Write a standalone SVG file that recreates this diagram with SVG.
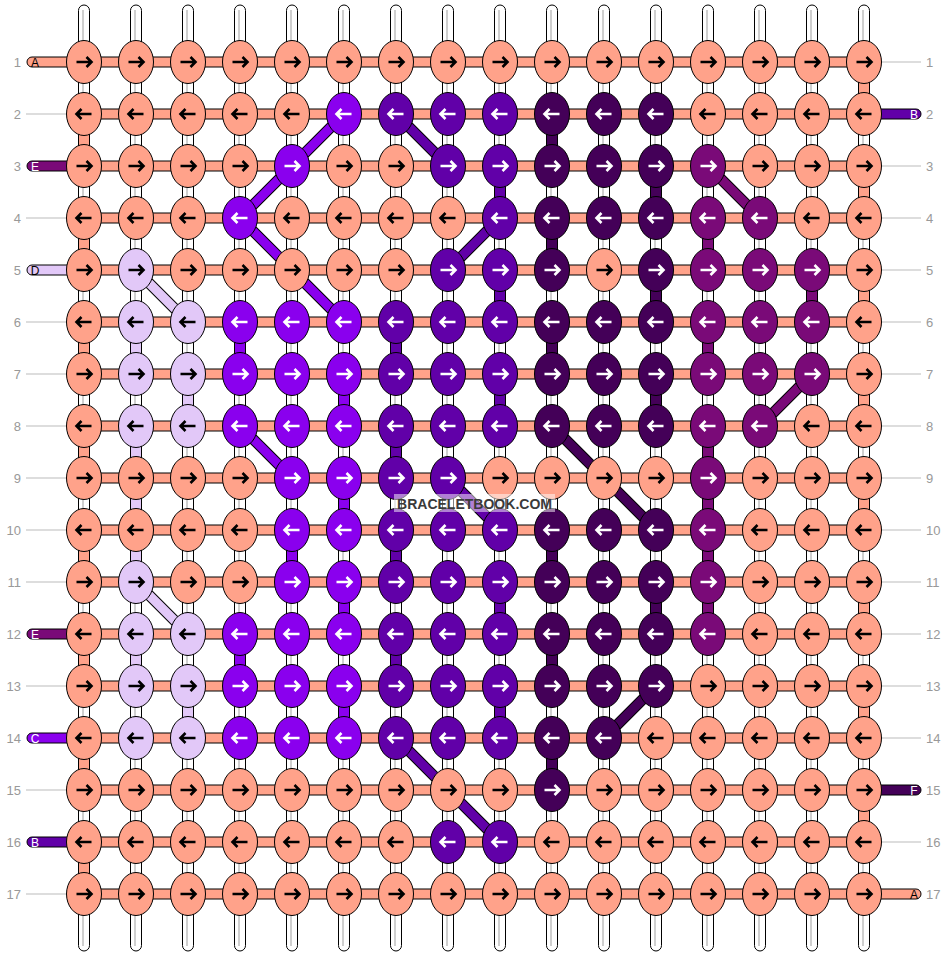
<svg xmlns="http://www.w3.org/2000/svg" xmlns:xlink="http://www.w3.org/1999/xlink" width="948" height="956" viewBox="0 0 948 956">
<style>
.s{fill:#FFA28A;color:#000}
.l{fill:#E2C8F8;color:#000}
.p{fill:#8A00EE;color:#fff}
.m{fill:#6100A8;color:#fff}
.d{fill:#440058;color:#fff}
.g{fill:#7A0A78;color:#fff}
ellipse{stroke:#000;stroke-width:1}
.thr{fill:#fff;stroke:#000;stroke-width:1}
.hl{stroke:#cfcfcf;stroke-width:2}
.seg{stroke:#000;stroke-width:1}
.dk{fill:none;stroke:#000;stroke-width:11;stroke-linejoin:round}
.dc{fill:none;stroke-width:9;stroke-linejoin:round}
.cp{stroke:#8A00EE}.cm{stroke:#6100A8}.cd{stroke:#440058}.cg{stroke:#7A0A78}.cl{stroke:#E2C8F8}
.num{font-family:"Liberation Sans",Arial,sans-serif;font-size:13px;fill:#999}
.lab{font-family:"Liberation Sans",Arial,sans-serif;font-size:12px;text-anchor:middle}
.gl{stroke:#bbb;stroke-width:1}
</style>
<defs>
<path id="R" d="M-7.5,0H6.5M2.5,-5L7.5,0L2.5,5" fill="none" stroke="currentColor" stroke-width="2.6"/>
<path id="L" d="M7.5,0H-6.5M-2.5,-5L-7.5,0L-2.5,5" fill="none" stroke="currentColor" stroke-width="2.6"/>
</defs>
<rect width="948" height="956" fill="#fff"/>
<g id="connectors">
<g id="threads">
<rect class="thr" x="78.5" y="5" width="11" height="946" rx="5.5"/><line class="hl" x1="83" y1="10" x2="83" y2="946"/>
<rect class="thr" x="130.5" y="5" width="11" height="946" rx="5.5"/><line class="hl" x1="135" y1="10" x2="135" y2="946"/>
<rect class="thr" x="182.5" y="5" width="11" height="946" rx="5.5"/><line class="hl" x1="187" y1="10" x2="187" y2="946"/>
<rect class="thr" x="234.5" y="5" width="11" height="946" rx="5.5"/><line class="hl" x1="239" y1="10" x2="239" y2="946"/>
<rect class="thr" x="286.5" y="5" width="11" height="946" rx="5.5"/><line class="hl" x1="291" y1="10" x2="291" y2="946"/>
<rect class="thr" x="338.5" y="5" width="11" height="946" rx="5.5"/><line class="hl" x1="343" y1="10" x2="343" y2="946"/>
<rect class="thr" x="390.5" y="5" width="11" height="946" rx="5.5"/><line class="hl" x1="395" y1="10" x2="395" y2="946"/>
<rect class="thr" x="442.5" y="5" width="11" height="946" rx="5.5"/><line class="hl" x1="447" y1="10" x2="447" y2="946"/>
<rect class="thr" x="494.5" y="5" width="11" height="946" rx="5.5"/><line class="hl" x1="499" y1="10" x2="499" y2="946"/>
<rect class="thr" x="546.5" y="5" width="11" height="946" rx="5.5"/><line class="hl" x1="551" y1="10" x2="551" y2="946"/>
<rect class="thr" x="598.5" y="5" width="11" height="946" rx="5.5"/><line class="hl" x1="603" y1="10" x2="603" y2="946"/>
<rect class="thr" x="650.5" y="5" width="11" height="946" rx="5.5"/><line class="hl" x1="655" y1="10" x2="655" y2="946"/>
<rect class="thr" x="702.5" y="5" width="11" height="946" rx="5.5"/><line class="hl" x1="707" y1="10" x2="707" y2="946"/>
<rect class="thr" x="754.5" y="5" width="11" height="946" rx="5.5"/><line class="hl" x1="759" y1="10" x2="759" y2="946"/>
<rect class="thr" x="806.5" y="5" width="11" height="946" rx="5.5"/><line class="hl" x1="811" y1="10" x2="811" y2="946"/>
<rect class="thr" x="858.5" y="5" width="11" height="946" rx="5.5"/><line class="hl" x1="863" y1="10" x2="863" y2="946"/>
</g>
<g id="vsegs">
<rect class="seg s" x="78.5" y="129" width="11" height="22"/><rect class="seg s" x="78.5" y="233" width="11" height="22"/><rect class="seg s" x="78.5" y="337" width="11" height="22"/><rect class="seg s" x="78.5" y="441" width="11" height="22"/><rect class="seg s" x="78.5" y="545" width="11" height="22"/><rect class="seg s" x="78.5" y="649" width="11" height="22"/><rect class="seg s" x="78.5" y="753" width="11" height="22"/><rect class="seg s" x="78.5" y="857" width="11" height="22"/>
<rect class="seg s" x="858.5" y="77" width="11" height="22"/><rect class="seg s" x="858.5" y="181" width="11" height="22"/><rect class="seg s" x="858.5" y="285" width="11" height="22"/><rect class="seg s" x="858.5" y="389" width="11" height="22"/><rect class="seg s" x="858.5" y="493" width="11" height="22"/><rect class="seg s" x="858.5" y="597" width="11" height="22"/><rect class="seg s" x="858.5" y="701" width="11" height="22"/><rect class="seg s" x="858.5" y="805" width="11" height="22"/>
<rect class="seg l" x="130.5" y="337" width="11" height="22"/><rect class="seg l" x="130.5" y="441" width="11" height="22"/><rect class="seg l" x="130.5" y="493" width="11" height="22"/><rect class="seg l" x="130.5" y="545" width="11" height="22"/><rect class="seg l" x="130.5" y="649" width="11" height="22"/>
<rect class="seg l" x="182.5" y="389" width="11" height="22"/><rect class="seg l" x="182.5" y="701" width="11" height="22"/>
<rect class="seg p" x="234.5" y="337" width="11" height="22"/><rect class="seg p" x="234.5" y="649" width="11" height="22"/>
<rect class="seg p" x="286.5" y="545" width="11" height="22"/>
<rect class="seg p" x="338.5" y="389" width="11" height="22"/><rect class="seg p" x="338.5" y="493" width="11" height="22"/><rect class="seg p" x="338.5" y="597" width="11" height="22"/><rect class="seg p" x="338.5" y="701" width="11" height="22"/>
<rect class="seg m" x="390.5" y="337" width="11" height="22"/><rect class="seg m" x="390.5" y="441" width="11" height="22"/><rect class="seg m" x="390.5" y="545" width="11" height="22"/><rect class="seg m" x="390.5" y="649" width="11" height="22"/>
<rect class="seg m" x="494.5" y="181" width="11" height="22"/><rect class="seg m" x="494.5" y="285" width="11" height="22"/><rect class="seg m" x="494.5" y="389" width="11" height="22"/><rect class="seg m" x="494.5" y="597" width="11" height="22"/><rect class="seg m" x="494.5" y="701" width="11" height="22"/>
<rect class="seg d" x="546.5" y="129" width="11" height="22"/><rect class="seg d" x="546.5" y="233" width="11" height="22"/><rect class="seg d" x="546.5" y="337" width="11" height="22"/><rect class="seg d" x="546.5" y="545" width="11" height="22"/><rect class="seg d" x="546.5" y="649" width="11" height="22"/><rect class="seg d" x="546.5" y="753" width="11" height="22"/>
<rect class="seg d" x="650.5" y="181" width="11" height="22"/><rect class="seg d" x="650.5" y="285" width="11" height="22"/><rect class="seg d" x="650.5" y="389" width="11" height="22"/><rect class="seg d" x="650.5" y="597" width="11" height="22"/>
<rect class="seg g" x="702.5" y="233" width="11" height="22"/><rect class="seg g" x="702.5" y="337" width="11" height="22"/><rect class="seg g" x="702.5" y="441" width="11" height="22"/><rect class="seg g" x="702.5" y="493" width="11" height="22"/><rect class="seg g" x="702.5" y="545" width="11" height="22"/><rect class="seg g" x="702.5" y="597" width="11" height="22"/>
<rect class="seg g" x="806.5" y="285" width="11" height="22"/>
</g>
<g id="rows">
<rect class="seg s" x="27" y="57" width="50" height="10" rx="5"/>
<rect class="seg g" x="27" y="161" width="50" height="10" rx="5"/>
<rect class="seg l" x="27" y="265" width="50" height="10" rx="5"/>
<rect class="seg g" x="27" y="629" width="50" height="10" rx="5"/>
<rect class="seg p" x="27" y="733" width="50" height="10" rx="5"/>
<rect class="seg m" x="27" y="837" width="50" height="10" rx="5"/>
<rect class="seg m" x="871" y="109" width="50" height="10" rx="5"/>
<rect class="seg d" x="871" y="785" width="50" height="10" rx="5"/>
<rect class="seg s" x="871" y="889" width="50" height="10" rx="5"/>
<rect class="seg s" x="84" y="57" width="780" height="10"/>
<rect class="seg s" x="84" y="109" width="780" height="10"/>
<rect class="seg s" x="84" y="161" width="780" height="10"/>
<rect class="seg s" x="84" y="213" width="780" height="10"/>
<rect class="seg s" x="84" y="265" width="780" height="10"/>
<rect class="seg s" x="84" y="317" width="780" height="10"/>
<rect class="seg s" x="84" y="369" width="780" height="10"/>
<rect class="seg s" x="84" y="421" width="780" height="10"/>
<rect class="seg s" x="84" y="473" width="780" height="10"/>
<rect class="seg s" x="84" y="525" width="780" height="10"/>
<rect class="seg s" x="84" y="577" width="780" height="10"/>
<rect class="seg s" x="84" y="629" width="780" height="10"/>
<rect class="seg s" x="84" y="681" width="780" height="10"/>
<rect class="seg s" x="84" y="733" width="780" height="10"/>
<rect class="seg s" x="84" y="785" width="780" height="10"/>
<rect class="seg s" x="84" y="837" width="780" height="10"/>
<rect class="seg s" x="84" y="889" width="780" height="10"/>
</g>
<g id="diagonals">
<polyline class="dk" points="344,114 292,166 240,218 292,270 344,322"/><polyline class="dc cp" points="344,114 292,166 240,218 292,270 344,322"/>
<line class="dk" x1="396" y1="114" x2="448" y2="166"/><line class="dc cm" x1="396" y1="114" x2="448" y2="166"/>
<line class="dk" x1="500" y1="218" x2="448" y2="270"/><line class="dc cm" x1="500" y1="218" x2="448" y2="270"/>
<line class="dk" x1="708" y1="166" x2="760" y2="218"/><line class="dc cg" x1="708" y1="166" x2="760" y2="218"/>
<line class="dk" x1="136" y1="270" x2="188" y2="322"/><line class="dc cl" x1="136" y1="270" x2="188" y2="322"/>
<line class="dk" x1="812" y1="374" x2="760" y2="426"/><line class="dc cg" x1="812" y1="374" x2="760" y2="426"/>
<line class="dk" x1="240" y1="426" x2="292" y2="478"/><line class="dc cp" x1="240" y1="426" x2="292" y2="478"/>
<line class="dk" x1="552" y1="426" x2="656" y2="530"/><line class="dc cd" x1="552" y1="426" x2="656" y2="530"/>
<line class="dk" x1="448" y1="478" x2="500" y2="530"/><line class="dc cm" x1="448" y1="478" x2="500" y2="530"/>
<line class="dk" x1="136" y1="582" x2="188" y2="634"/><line class="dc cl" x1="136" y1="582" x2="188" y2="634"/>
<line class="dk" x1="656" y1="686" x2="604" y2="738"/><line class="dc cd" x1="656" y1="686" x2="604" y2="738"/>
<line class="dk" x1="396" y1="738" x2="500" y2="842"/><line class="dc cm" x1="396" y1="738" x2="500" y2="842"/>
</g>
</g>
<g id="labels">
<text class="num" x="21" y="66.5" text-anchor="end">1</text><text class="num" x="21" y="118.5" text-anchor="end">2</text><text class="num" x="21" y="170.5" text-anchor="end">3</text><text class="num" x="21" y="222.5" text-anchor="end">4</text><text class="num" x="21" y="274.5" text-anchor="end">5</text><text class="num" x="21" y="326.5" text-anchor="end">6</text><text class="num" x="21" y="378.5" text-anchor="end">7</text><text class="num" x="21" y="430.5" text-anchor="end">8</text><text class="num" x="21" y="482.5" text-anchor="end">9</text><text class="num" x="21" y="534.5" text-anchor="end">10</text><text class="num" x="21" y="586.5" text-anchor="end">11</text><text class="num" x="21" y="638.5" text-anchor="end">12</text><text class="num" x="21" y="690.5" text-anchor="end">13</text><text class="num" x="21" y="742.5" text-anchor="end">14</text><text class="num" x="21" y="794.5" text-anchor="end">15</text><text class="num" x="21" y="846.5" text-anchor="end">16</text><text class="num" x="21" y="898.5" text-anchor="end">17</text>
<text class="num" x="926" y="66.5">1</text><text class="num" x="926" y="118.5">2</text><text class="num" x="926" y="170.5">3</text><text class="num" x="926" y="222.5">4</text><text class="num" x="926" y="274.5">5</text><text class="num" x="926" y="326.5">6</text><text class="num" x="926" y="378.5">7</text><text class="num" x="926" y="430.5">8</text><text class="num" x="926" y="482.5">9</text><text class="num" x="926" y="534.5">10</text><text class="num" x="926" y="586.5">11</text><text class="num" x="926" y="638.5">12</text><text class="num" x="926" y="690.5">13</text><text class="num" x="926" y="742.5">14</text><text class="num" x="926" y="794.5">15</text><text class="num" x="926" y="846.5">16</text><text class="num" x="926" y="898.5">17</text>
<line class="gl" x1="26" y1="114" x2="67" y2="114"/><line class="gl" x1="26" y1="218" x2="67" y2="218"/><line class="gl" x1="26" y1="322" x2="67" y2="322"/><line class="gl" x1="26" y1="374" x2="67" y2="374"/><line class="gl" x1="26" y1="426" x2="67" y2="426"/><line class="gl" x1="26" y1="478" x2="67" y2="478"/><line class="gl" x1="26" y1="530" x2="67" y2="530"/><line class="gl" x1="26" y1="582" x2="67" y2="582"/><line class="gl" x1="26" y1="686" x2="67" y2="686"/><line class="gl" x1="26" y1="790" x2="67" y2="790"/><line class="gl" x1="26" y1="894" x2="67" y2="894"/>
<line class="gl" x1="881" y1="62" x2="921" y2="62"/><line class="gl" x1="881" y1="166" x2="921" y2="166"/><line class="gl" x1="881" y1="218" x2="921" y2="218"/><line class="gl" x1="881" y1="270" x2="921" y2="270"/><line class="gl" x1="881" y1="322" x2="921" y2="322"/><line class="gl" x1="881" y1="374" x2="921" y2="374"/><line class="gl" x1="881" y1="426" x2="921" y2="426"/><line class="gl" x1="881" y1="478" x2="921" y2="478"/><line class="gl" x1="881" y1="530" x2="921" y2="530"/><line class="gl" x1="881" y1="582" x2="921" y2="582"/><line class="gl" x1="881" y1="634" x2="921" y2="634"/><line class="gl" x1="881" y1="686" x2="921" y2="686"/><line class="gl" x1="881" y1="738" x2="921" y2="738"/><line class="gl" x1="881" y1="842" x2="921" y2="842"/>
<text class="lab" x="35" y="66.5" fill="#000">A</text>
<text class="lab" x="35" y="170.5" fill="#fff">E</text>
<text class="lab" x="35" y="274.5" fill="#000">D</text>
<text class="lab" x="35" y="638.5" fill="#fff">E</text>
<text class="lab" x="35" y="742.5" fill="#fff">C</text>
<text class="lab" x="35" y="846.5" fill="#fff">B</text>
<text class="lab" x="914" y="118.5" fill="#fff">B</text>
<text class="lab" x="914" y="794.5" fill="#fff">F</text>
<text class="lab" x="914" y="898.5" fill="#000">A</text>
</g>
<g id="nodes">
<g id="n1-1" class="s"><ellipse cx="84" cy="62" rx="17.5" ry="21.5"/><use href="#R" x="84" y="62"/></g>
<g id="n1-2" class="s"><ellipse cx="136" cy="62" rx="17.5" ry="21.5"/><use href="#R" x="136" y="62"/></g>
<g id="n1-3" class="s"><ellipse cx="188" cy="62" rx="17.5" ry="21.5"/><use href="#R" x="188" y="62"/></g>
<g id="n1-4" class="s"><ellipse cx="240" cy="62" rx="17.5" ry="21.5"/><use href="#R" x="240" y="62"/></g>
<g id="n1-5" class="s"><ellipse cx="292" cy="62" rx="17.5" ry="21.5"/><use href="#R" x="292" y="62"/></g>
<g id="n1-6" class="s"><ellipse cx="344" cy="62" rx="17.5" ry="21.5"/><use href="#R" x="344" y="62"/></g>
<g id="n1-7" class="s"><ellipse cx="396" cy="62" rx="17.5" ry="21.5"/><use href="#R" x="396" y="62"/></g>
<g id="n1-8" class="s"><ellipse cx="448" cy="62" rx="17.5" ry="21.5"/><use href="#R" x="448" y="62"/></g>
<g id="n1-9" class="s"><ellipse cx="500" cy="62" rx="17.5" ry="21.5"/><use href="#R" x="500" y="62"/></g>
<g id="n1-10" class="s"><ellipse cx="552" cy="62" rx="17.5" ry="21.5"/><use href="#R" x="552" y="62"/></g>
<g id="n1-11" class="s"><ellipse cx="604" cy="62" rx="17.5" ry="21.5"/><use href="#R" x="604" y="62"/></g>
<g id="n1-12" class="s"><ellipse cx="656" cy="62" rx="17.5" ry="21.5"/><use href="#R" x="656" y="62"/></g>
<g id="n1-13" class="s"><ellipse cx="708" cy="62" rx="17.5" ry="21.5"/><use href="#R" x="708" y="62"/></g>
<g id="n1-14" class="s"><ellipse cx="760" cy="62" rx="17.5" ry="21.5"/><use href="#R" x="760" y="62"/></g>
<g id="n1-15" class="s"><ellipse cx="812" cy="62" rx="17.5" ry="21.5"/><use href="#R" x="812" y="62"/></g>
<g id="n1-16" class="s"><ellipse cx="864" cy="62" rx="17.5" ry="21.5"/><use href="#R" x="864" y="62"/></g>
<g id="n2-1" class="s"><ellipse cx="84" cy="114" rx="17.5" ry="21.5"/><use href="#L" x="84" y="114"/></g>
<g id="n2-2" class="s"><ellipse cx="136" cy="114" rx="17.5" ry="21.5"/><use href="#L" x="136" y="114"/></g>
<g id="n2-3" class="s"><ellipse cx="188" cy="114" rx="17.5" ry="21.5"/><use href="#L" x="188" y="114"/></g>
<g id="n2-4" class="s"><ellipse cx="240" cy="114" rx="17.5" ry="21.5"/><use href="#L" x="240" y="114"/></g>
<g id="n2-5" class="s"><ellipse cx="292" cy="114" rx="17.5" ry="21.5"/><use href="#L" x="292" y="114"/></g>
<g id="n2-6" class="p"><ellipse cx="344" cy="114" rx="17.5" ry="21.5"/><use href="#L" x="344" y="114"/></g>
<g id="n2-7" class="m"><ellipse cx="396" cy="114" rx="17.5" ry="21.5"/><use href="#L" x="396" y="114"/></g>
<g id="n2-8" class="m"><ellipse cx="448" cy="114" rx="17.5" ry="21.5"/><use href="#L" x="448" y="114"/></g>
<g id="n2-9" class="m"><ellipse cx="500" cy="114" rx="17.5" ry="21.5"/><use href="#L" x="500" y="114"/></g>
<g id="n2-10" class="d"><ellipse cx="552" cy="114" rx="17.5" ry="21.5"/><use href="#L" x="552" y="114"/></g>
<g id="n2-11" class="d"><ellipse cx="604" cy="114" rx="17.5" ry="21.5"/><use href="#L" x="604" y="114"/></g>
<g id="n2-12" class="d"><ellipse cx="656" cy="114" rx="17.5" ry="21.5"/><use href="#L" x="656" y="114"/></g>
<g id="n2-13" class="s"><ellipse cx="708" cy="114" rx="17.5" ry="21.5"/><use href="#L" x="708" y="114"/></g>
<g id="n2-14" class="s"><ellipse cx="760" cy="114" rx="17.5" ry="21.5"/><use href="#L" x="760" y="114"/></g>
<g id="n2-15" class="s"><ellipse cx="812" cy="114" rx="17.5" ry="21.5"/><use href="#L" x="812" y="114"/></g>
<g id="n2-16" class="s"><ellipse cx="864" cy="114" rx="17.5" ry="21.5"/><use href="#L" x="864" y="114"/></g>
<g id="n3-1" class="s"><ellipse cx="84" cy="166" rx="17.5" ry="21.5"/><use href="#R" x="84" y="166"/></g>
<g id="n3-2" class="s"><ellipse cx="136" cy="166" rx="17.5" ry="21.5"/><use href="#R" x="136" y="166"/></g>
<g id="n3-3" class="s"><ellipse cx="188" cy="166" rx="17.5" ry="21.5"/><use href="#R" x="188" y="166"/></g>
<g id="n3-4" class="s"><ellipse cx="240" cy="166" rx="17.5" ry="21.5"/><use href="#R" x="240" y="166"/></g>
<g id="n3-5" class="p"><ellipse cx="292" cy="166" rx="17.5" ry="21.5"/><use href="#R" x="292" y="166"/></g>
<g id="n3-6" class="s"><ellipse cx="344" cy="166" rx="17.5" ry="21.5"/><use href="#R" x="344" y="166"/></g>
<g id="n3-7" class="s"><ellipse cx="396" cy="166" rx="17.5" ry="21.5"/><use href="#R" x="396" y="166"/></g>
<g id="n3-8" class="m"><ellipse cx="448" cy="166" rx="17.5" ry="21.5"/><use href="#R" x="448" y="166"/></g>
<g id="n3-9" class="m"><ellipse cx="500" cy="166" rx="17.5" ry="21.5"/><use href="#R" x="500" y="166"/></g>
<g id="n3-10" class="d"><ellipse cx="552" cy="166" rx="17.5" ry="21.5"/><use href="#R" x="552" y="166"/></g>
<g id="n3-11" class="d"><ellipse cx="604" cy="166" rx="17.5" ry="21.5"/><use href="#R" x="604" y="166"/></g>
<g id="n3-12" class="d"><ellipse cx="656" cy="166" rx="17.5" ry="21.5"/><use href="#R" x="656" y="166"/></g>
<g id="n3-13" class="g"><ellipse cx="708" cy="166" rx="17.5" ry="21.5"/><use href="#R" x="708" y="166"/></g>
<g id="n3-14" class="s"><ellipse cx="760" cy="166" rx="17.5" ry="21.5"/><use href="#R" x="760" y="166"/></g>
<g id="n3-15" class="s"><ellipse cx="812" cy="166" rx="17.5" ry="21.5"/><use href="#R" x="812" y="166"/></g>
<g id="n3-16" class="s"><ellipse cx="864" cy="166" rx="17.5" ry="21.5"/><use href="#R" x="864" y="166"/></g>
<g id="n4-1" class="s"><ellipse cx="84" cy="218" rx="17.5" ry="21.5"/><use href="#L" x="84" y="218"/></g>
<g id="n4-2" class="s"><ellipse cx="136" cy="218" rx="17.5" ry="21.5"/><use href="#L" x="136" y="218"/></g>
<g id="n4-3" class="s"><ellipse cx="188" cy="218" rx="17.5" ry="21.5"/><use href="#L" x="188" y="218"/></g>
<g id="n4-4" class="p"><ellipse cx="240" cy="218" rx="17.5" ry="21.5"/><use href="#L" x="240" y="218"/></g>
<g id="n4-5" class="s"><ellipse cx="292" cy="218" rx="17.5" ry="21.5"/><use href="#L" x="292" y="218"/></g>
<g id="n4-6" class="s"><ellipse cx="344" cy="218" rx="17.5" ry="21.5"/><use href="#L" x="344" y="218"/></g>
<g id="n4-7" class="s"><ellipse cx="396" cy="218" rx="17.5" ry="21.5"/><use href="#L" x="396" y="218"/></g>
<g id="n4-8" class="s"><ellipse cx="448" cy="218" rx="17.5" ry="21.5"/><use href="#L" x="448" y="218"/></g>
<g id="n4-9" class="m"><ellipse cx="500" cy="218" rx="17.5" ry="21.5"/><use href="#L" x="500" y="218"/></g>
<g id="n4-10" class="d"><ellipse cx="552" cy="218" rx="17.5" ry="21.5"/><use href="#L" x="552" y="218"/></g>
<g id="n4-11" class="d"><ellipse cx="604" cy="218" rx="17.5" ry="21.5"/><use href="#L" x="604" y="218"/></g>
<g id="n4-12" class="d"><ellipse cx="656" cy="218" rx="17.5" ry="21.5"/><use href="#L" x="656" y="218"/></g>
<g id="n4-13" class="g"><ellipse cx="708" cy="218" rx="17.5" ry="21.5"/><use href="#L" x="708" y="218"/></g>
<g id="n4-14" class="g"><ellipse cx="760" cy="218" rx="17.5" ry="21.5"/><use href="#L" x="760" y="218"/></g>
<g id="n4-15" class="s"><ellipse cx="812" cy="218" rx="17.5" ry="21.5"/><use href="#L" x="812" y="218"/></g>
<g id="n4-16" class="s"><ellipse cx="864" cy="218" rx="17.5" ry="21.5"/><use href="#L" x="864" y="218"/></g>
<g id="n5-1" class="s"><ellipse cx="84" cy="270" rx="17.5" ry="21.5"/><use href="#R" x="84" y="270"/></g>
<g id="n5-2" class="l"><ellipse cx="136" cy="270" rx="17.5" ry="21.5"/><use href="#R" x="136" y="270"/></g>
<g id="n5-3" class="s"><ellipse cx="188" cy="270" rx="17.5" ry="21.5"/><use href="#R" x="188" y="270"/></g>
<g id="n5-4" class="s"><ellipse cx="240" cy="270" rx="17.5" ry="21.5"/><use href="#R" x="240" y="270"/></g>
<g id="n5-5" class="s"><ellipse cx="292" cy="270" rx="17.5" ry="21.5"/><use href="#R" x="292" y="270"/></g>
<g id="n5-6" class="s"><ellipse cx="344" cy="270" rx="17.5" ry="21.5"/><use href="#R" x="344" y="270"/></g>
<g id="n5-7" class="s"><ellipse cx="396" cy="270" rx="17.5" ry="21.5"/><use href="#R" x="396" y="270"/></g>
<g id="n5-8" class="m"><ellipse cx="448" cy="270" rx="17.5" ry="21.5"/><use href="#R" x="448" y="270"/></g>
<g id="n5-9" class="m"><ellipse cx="500" cy="270" rx="17.5" ry="21.5"/><use href="#R" x="500" y="270"/></g>
<g id="n5-10" class="d"><ellipse cx="552" cy="270" rx="17.5" ry="21.5"/><use href="#R" x="552" y="270"/></g>
<g id="n5-11" class="s"><ellipse cx="604" cy="270" rx="17.5" ry="21.5"/><use href="#R" x="604" y="270"/></g>
<g id="n5-12" class="d"><ellipse cx="656" cy="270" rx="17.5" ry="21.5"/><use href="#R" x="656" y="270"/></g>
<g id="n5-13" class="g"><ellipse cx="708" cy="270" rx="17.5" ry="21.5"/><use href="#R" x="708" y="270"/></g>
<g id="n5-14" class="g"><ellipse cx="760" cy="270" rx="17.5" ry="21.5"/><use href="#R" x="760" y="270"/></g>
<g id="n5-15" class="g"><ellipse cx="812" cy="270" rx="17.5" ry="21.5"/><use href="#R" x="812" y="270"/></g>
<g id="n5-16" class="s"><ellipse cx="864" cy="270" rx="17.5" ry="21.5"/><use href="#R" x="864" y="270"/></g>
<g id="n6-1" class="s"><ellipse cx="84" cy="322" rx="17.5" ry="21.5"/><use href="#L" x="84" y="322"/></g>
<g id="n6-2" class="l"><ellipse cx="136" cy="322" rx="17.5" ry="21.5"/><use href="#L" x="136" y="322"/></g>
<g id="n6-3" class="l"><ellipse cx="188" cy="322" rx="17.5" ry="21.5"/><use href="#L" x="188" y="322"/></g>
<g id="n6-4" class="p"><ellipse cx="240" cy="322" rx="17.5" ry="21.5"/><use href="#L" x="240" y="322"/></g>
<g id="n6-5" class="p"><ellipse cx="292" cy="322" rx="17.5" ry="21.5"/><use href="#L" x="292" y="322"/></g>
<g id="n6-6" class="p"><ellipse cx="344" cy="322" rx="17.5" ry="21.5"/><use href="#L" x="344" y="322"/></g>
<g id="n6-7" class="m"><ellipse cx="396" cy="322" rx="17.5" ry="21.5"/><use href="#L" x="396" y="322"/></g>
<g id="n6-8" class="m"><ellipse cx="448" cy="322" rx="17.5" ry="21.5"/><use href="#L" x="448" y="322"/></g>
<g id="n6-9" class="m"><ellipse cx="500" cy="322" rx="17.5" ry="21.5"/><use href="#L" x="500" y="322"/></g>
<g id="n6-10" class="d"><ellipse cx="552" cy="322" rx="17.5" ry="21.5"/><use href="#L" x="552" y="322"/></g>
<g id="n6-11" class="d"><ellipse cx="604" cy="322" rx="17.5" ry="21.5"/><use href="#L" x="604" y="322"/></g>
<g id="n6-12" class="d"><ellipse cx="656" cy="322" rx="17.5" ry="21.5"/><use href="#L" x="656" y="322"/></g>
<g id="n6-13" class="g"><ellipse cx="708" cy="322" rx="17.5" ry="21.5"/><use href="#L" x="708" y="322"/></g>
<g id="n6-14" class="g"><ellipse cx="760" cy="322" rx="17.5" ry="21.5"/><use href="#L" x="760" y="322"/></g>
<g id="n6-15" class="g"><ellipse cx="812" cy="322" rx="17.5" ry="21.5"/><use href="#L" x="812" y="322"/></g>
<g id="n6-16" class="s"><ellipse cx="864" cy="322" rx="17.5" ry="21.5"/><use href="#L" x="864" y="322"/></g>
<g id="n7-1" class="s"><ellipse cx="84" cy="374" rx="17.5" ry="21.5"/><use href="#R" x="84" y="374"/></g>
<g id="n7-2" class="l"><ellipse cx="136" cy="374" rx="17.5" ry="21.5"/><use href="#R" x="136" y="374"/></g>
<g id="n7-3" class="l"><ellipse cx="188" cy="374" rx="17.5" ry="21.5"/><use href="#R" x="188" y="374"/></g>
<g id="n7-4" class="p"><ellipse cx="240" cy="374" rx="17.5" ry="21.5"/><use href="#R" x="240" y="374"/></g>
<g id="n7-5" class="p"><ellipse cx="292" cy="374" rx="17.5" ry="21.5"/><use href="#R" x="292" y="374"/></g>
<g id="n7-6" class="p"><ellipse cx="344" cy="374" rx="17.5" ry="21.5"/><use href="#R" x="344" y="374"/></g>
<g id="n7-7" class="m"><ellipse cx="396" cy="374" rx="17.5" ry="21.5"/><use href="#R" x="396" y="374"/></g>
<g id="n7-8" class="m"><ellipse cx="448" cy="374" rx="17.5" ry="21.5"/><use href="#R" x="448" y="374"/></g>
<g id="n7-9" class="m"><ellipse cx="500" cy="374" rx="17.5" ry="21.5"/><use href="#R" x="500" y="374"/></g>
<g id="n7-10" class="d"><ellipse cx="552" cy="374" rx="17.5" ry="21.5"/><use href="#R" x="552" y="374"/></g>
<g id="n7-11" class="d"><ellipse cx="604" cy="374" rx="17.5" ry="21.5"/><use href="#R" x="604" y="374"/></g>
<g id="n7-12" class="d"><ellipse cx="656" cy="374" rx="17.5" ry="21.5"/><use href="#R" x="656" y="374"/></g>
<g id="n7-13" class="g"><ellipse cx="708" cy="374" rx="17.5" ry="21.5"/><use href="#R" x="708" y="374"/></g>
<g id="n7-14" class="g"><ellipse cx="760" cy="374" rx="17.5" ry="21.5"/><use href="#R" x="760" y="374"/></g>
<g id="n7-15" class="g"><ellipse cx="812" cy="374" rx="17.5" ry="21.5"/><use href="#R" x="812" y="374"/></g>
<g id="n7-16" class="s"><ellipse cx="864" cy="374" rx="17.5" ry="21.5"/><use href="#R" x="864" y="374"/></g>
<g id="n8-1" class="s"><ellipse cx="84" cy="426" rx="17.5" ry="21.5"/><use href="#L" x="84" y="426"/></g>
<g id="n8-2" class="l"><ellipse cx="136" cy="426" rx="17.5" ry="21.5"/><use href="#L" x="136" y="426"/></g>
<g id="n8-3" class="l"><ellipse cx="188" cy="426" rx="17.5" ry="21.5"/><use href="#L" x="188" y="426"/></g>
<g id="n8-4" class="p"><ellipse cx="240" cy="426" rx="17.5" ry="21.5"/><use href="#L" x="240" y="426"/></g>
<g id="n8-5" class="p"><ellipse cx="292" cy="426" rx="17.5" ry="21.5"/><use href="#L" x="292" y="426"/></g>
<g id="n8-6" class="p"><ellipse cx="344" cy="426" rx="17.5" ry="21.5"/><use href="#L" x="344" y="426"/></g>
<g id="n8-7" class="m"><ellipse cx="396" cy="426" rx="17.5" ry="21.5"/><use href="#L" x="396" y="426"/></g>
<g id="n8-8" class="m"><ellipse cx="448" cy="426" rx="17.5" ry="21.5"/><use href="#L" x="448" y="426"/></g>
<g id="n8-9" class="m"><ellipse cx="500" cy="426" rx="17.5" ry="21.5"/><use href="#L" x="500" y="426"/></g>
<g id="n8-10" class="d"><ellipse cx="552" cy="426" rx="17.5" ry="21.5"/><use href="#L" x="552" y="426"/></g>
<g id="n8-11" class="d"><ellipse cx="604" cy="426" rx="17.5" ry="21.5"/><use href="#L" x="604" y="426"/></g>
<g id="n8-12" class="d"><ellipse cx="656" cy="426" rx="17.5" ry="21.5"/><use href="#L" x="656" y="426"/></g>
<g id="n8-13" class="g"><ellipse cx="708" cy="426" rx="17.5" ry="21.5"/><use href="#L" x="708" y="426"/></g>
<g id="n8-14" class="g"><ellipse cx="760" cy="426" rx="17.5" ry="21.5"/><use href="#L" x="760" y="426"/></g>
<g id="n8-15" class="s"><ellipse cx="812" cy="426" rx="17.5" ry="21.5"/><use href="#L" x="812" y="426"/></g>
<g id="n8-16" class="s"><ellipse cx="864" cy="426" rx="17.5" ry="21.5"/><use href="#L" x="864" y="426"/></g>
<g id="n9-1" class="s"><ellipse cx="84" cy="478" rx="17.5" ry="21.5"/><use href="#R" x="84" y="478"/></g>
<g id="n9-2" class="s"><ellipse cx="136" cy="478" rx="17.5" ry="21.5"/><use href="#R" x="136" y="478"/></g>
<g id="n9-3" class="s"><ellipse cx="188" cy="478" rx="17.5" ry="21.5"/><use href="#R" x="188" y="478"/></g>
<g id="n9-4" class="s"><ellipse cx="240" cy="478" rx="17.5" ry="21.5"/><use href="#R" x="240" y="478"/></g>
<g id="n9-5" class="p"><ellipse cx="292" cy="478" rx="17.5" ry="21.5"/><use href="#R" x="292" y="478"/></g>
<g id="n9-6" class="p"><ellipse cx="344" cy="478" rx="17.5" ry="21.5"/><use href="#R" x="344" y="478"/></g>
<g id="n9-7" class="m"><ellipse cx="396" cy="478" rx="17.5" ry="21.5"/><use href="#R" x="396" y="478"/></g>
<g id="n9-8" class="m"><ellipse cx="448" cy="478" rx="17.5" ry="21.5"/><use href="#R" x="448" y="478"/></g>
<g id="n9-9" class="s"><ellipse cx="500" cy="478" rx="17.5" ry="21.5"/><use href="#R" x="500" y="478"/></g>
<g id="n9-10" class="s"><ellipse cx="552" cy="478" rx="17.5" ry="21.5"/><use href="#R" x="552" y="478"/></g>
<g id="n9-11" class="s"><ellipse cx="604" cy="478" rx="17.5" ry="21.5"/><use href="#R" x="604" y="478"/></g>
<g id="n9-12" class="s"><ellipse cx="656" cy="478" rx="17.5" ry="21.5"/><use href="#R" x="656" y="478"/></g>
<g id="n9-13" class="g"><ellipse cx="708" cy="478" rx="17.5" ry="21.5"/><use href="#R" x="708" y="478"/></g>
<g id="n9-14" class="s"><ellipse cx="760" cy="478" rx="17.5" ry="21.5"/><use href="#R" x="760" y="478"/></g>
<g id="n9-15" class="s"><ellipse cx="812" cy="478" rx="17.5" ry="21.5"/><use href="#R" x="812" y="478"/></g>
<g id="n9-16" class="s"><ellipse cx="864" cy="478" rx="17.5" ry="21.5"/><use href="#R" x="864" y="478"/></g>
<g id="n10-1" class="s"><ellipse cx="84" cy="530" rx="17.5" ry="21.5"/><use href="#L" x="84" y="530"/></g>
<g id="n10-2" class="s"><ellipse cx="136" cy="530" rx="17.5" ry="21.5"/><use href="#L" x="136" y="530"/></g>
<g id="n10-3" class="s"><ellipse cx="188" cy="530" rx="17.5" ry="21.5"/><use href="#L" x="188" y="530"/></g>
<g id="n10-4" class="s"><ellipse cx="240" cy="530" rx="17.5" ry="21.5"/><use href="#L" x="240" y="530"/></g>
<g id="n10-5" class="p"><ellipse cx="292" cy="530" rx="17.5" ry="21.5"/><use href="#L" x="292" y="530"/></g>
<g id="n10-6" class="p"><ellipse cx="344" cy="530" rx="17.5" ry="21.5"/><use href="#L" x="344" y="530"/></g>
<g id="n10-7" class="m"><ellipse cx="396" cy="530" rx="17.5" ry="21.5"/><use href="#L" x="396" y="530"/></g>
<g id="n10-8" class="m"><ellipse cx="448" cy="530" rx="17.5" ry="21.5"/><use href="#L" x="448" y="530"/></g>
<g id="n10-9" class="m"><ellipse cx="500" cy="530" rx="17.5" ry="21.5"/><use href="#L" x="500" y="530"/></g>
<g id="n10-10" class="d"><ellipse cx="552" cy="530" rx="17.5" ry="21.5"/><use href="#L" x="552" y="530"/></g>
<g id="n10-11" class="d"><ellipse cx="604" cy="530" rx="17.5" ry="21.5"/><use href="#L" x="604" y="530"/></g>
<g id="n10-12" class="d"><ellipse cx="656" cy="530" rx="17.5" ry="21.5"/><use href="#L" x="656" y="530"/></g>
<g id="n10-13" class="g"><ellipse cx="708" cy="530" rx="17.5" ry="21.5"/><use href="#L" x="708" y="530"/></g>
<g id="n10-14" class="s"><ellipse cx="760" cy="530" rx="17.5" ry="21.5"/><use href="#L" x="760" y="530"/></g>
<g id="n10-15" class="s"><ellipse cx="812" cy="530" rx="17.5" ry="21.5"/><use href="#L" x="812" y="530"/></g>
<g id="n10-16" class="s"><ellipse cx="864" cy="530" rx="17.5" ry="21.5"/><use href="#L" x="864" y="530"/></g>
<g id="n11-1" class="s"><ellipse cx="84" cy="582" rx="17.5" ry="21.5"/><use href="#R" x="84" y="582"/></g>
<g id="n11-2" class="l"><ellipse cx="136" cy="582" rx="17.5" ry="21.5"/><use href="#R" x="136" y="582"/></g>
<g id="n11-3" class="s"><ellipse cx="188" cy="582" rx="17.5" ry="21.5"/><use href="#R" x="188" y="582"/></g>
<g id="n11-4" class="s"><ellipse cx="240" cy="582" rx="17.5" ry="21.5"/><use href="#R" x="240" y="582"/></g>
<g id="n11-5" class="p"><ellipse cx="292" cy="582" rx="17.5" ry="21.5"/><use href="#R" x="292" y="582"/></g>
<g id="n11-6" class="p"><ellipse cx="344" cy="582" rx="17.5" ry="21.5"/><use href="#R" x="344" y="582"/></g>
<g id="n11-7" class="m"><ellipse cx="396" cy="582" rx="17.5" ry="21.5"/><use href="#R" x="396" y="582"/></g>
<g id="n11-8" class="m"><ellipse cx="448" cy="582" rx="17.5" ry="21.5"/><use href="#R" x="448" y="582"/></g>
<g id="n11-9" class="m"><ellipse cx="500" cy="582" rx="17.5" ry="21.5"/><use href="#R" x="500" y="582"/></g>
<g id="n11-10" class="d"><ellipse cx="552" cy="582" rx="17.5" ry="21.5"/><use href="#R" x="552" y="582"/></g>
<g id="n11-11" class="d"><ellipse cx="604" cy="582" rx="17.5" ry="21.5"/><use href="#R" x="604" y="582"/></g>
<g id="n11-12" class="d"><ellipse cx="656" cy="582" rx="17.5" ry="21.5"/><use href="#R" x="656" y="582"/></g>
<g id="n11-13" class="g"><ellipse cx="708" cy="582" rx="17.5" ry="21.5"/><use href="#R" x="708" y="582"/></g>
<g id="n11-14" class="s"><ellipse cx="760" cy="582" rx="17.5" ry="21.5"/><use href="#R" x="760" y="582"/></g>
<g id="n11-15" class="s"><ellipse cx="812" cy="582" rx="17.5" ry="21.5"/><use href="#R" x="812" y="582"/></g>
<g id="n11-16" class="s"><ellipse cx="864" cy="582" rx="17.5" ry="21.5"/><use href="#R" x="864" y="582"/></g>
<g id="n12-1" class="s"><ellipse cx="84" cy="634" rx="17.5" ry="21.5"/><use href="#L" x="84" y="634"/></g>
<g id="n12-2" class="l"><ellipse cx="136" cy="634" rx="17.5" ry="21.5"/><use href="#L" x="136" y="634"/></g>
<g id="n12-3" class="l"><ellipse cx="188" cy="634" rx="17.5" ry="21.5"/><use href="#L" x="188" y="634"/></g>
<g id="n12-4" class="p"><ellipse cx="240" cy="634" rx="17.5" ry="21.5"/><use href="#L" x="240" y="634"/></g>
<g id="n12-5" class="p"><ellipse cx="292" cy="634" rx="17.5" ry="21.5"/><use href="#L" x="292" y="634"/></g>
<g id="n12-6" class="p"><ellipse cx="344" cy="634" rx="17.5" ry="21.5"/><use href="#L" x="344" y="634"/></g>
<g id="n12-7" class="m"><ellipse cx="396" cy="634" rx="17.5" ry="21.5"/><use href="#L" x="396" y="634"/></g>
<g id="n12-8" class="m"><ellipse cx="448" cy="634" rx="17.5" ry="21.5"/><use href="#L" x="448" y="634"/></g>
<g id="n12-9" class="m"><ellipse cx="500" cy="634" rx="17.5" ry="21.5"/><use href="#L" x="500" y="634"/></g>
<g id="n12-10" class="d"><ellipse cx="552" cy="634" rx="17.5" ry="21.5"/><use href="#L" x="552" y="634"/></g>
<g id="n12-11" class="d"><ellipse cx="604" cy="634" rx="17.5" ry="21.5"/><use href="#L" x="604" y="634"/></g>
<g id="n12-12" class="d"><ellipse cx="656" cy="634" rx="17.5" ry="21.5"/><use href="#L" x="656" y="634"/></g>
<g id="n12-13" class="g"><ellipse cx="708" cy="634" rx="17.5" ry="21.5"/><use href="#L" x="708" y="634"/></g>
<g id="n12-14" class="s"><ellipse cx="760" cy="634" rx="17.5" ry="21.5"/><use href="#L" x="760" y="634"/></g>
<g id="n12-15" class="s"><ellipse cx="812" cy="634" rx="17.5" ry="21.5"/><use href="#L" x="812" y="634"/></g>
<g id="n12-16" class="s"><ellipse cx="864" cy="634" rx="17.5" ry="21.5"/><use href="#L" x="864" y="634"/></g>
<g id="n13-1" class="s"><ellipse cx="84" cy="686" rx="17.5" ry="21.5"/><use href="#R" x="84" y="686"/></g>
<g id="n13-2" class="l"><ellipse cx="136" cy="686" rx="17.5" ry="21.5"/><use href="#R" x="136" y="686"/></g>
<g id="n13-3" class="l"><ellipse cx="188" cy="686" rx="17.5" ry="21.5"/><use href="#R" x="188" y="686"/></g>
<g id="n13-4" class="p"><ellipse cx="240" cy="686" rx="17.5" ry="21.5"/><use href="#R" x="240" y="686"/></g>
<g id="n13-5" class="p"><ellipse cx="292" cy="686" rx="17.5" ry="21.5"/><use href="#R" x="292" y="686"/></g>
<g id="n13-6" class="p"><ellipse cx="344" cy="686" rx="17.5" ry="21.5"/><use href="#R" x="344" y="686"/></g>
<g id="n13-7" class="m"><ellipse cx="396" cy="686" rx="17.5" ry="21.5"/><use href="#R" x="396" y="686"/></g>
<g id="n13-8" class="m"><ellipse cx="448" cy="686" rx="17.5" ry="21.5"/><use href="#R" x="448" y="686"/></g>
<g id="n13-9" class="m"><ellipse cx="500" cy="686" rx="17.5" ry="21.5"/><use href="#R" x="500" y="686"/></g>
<g id="n13-10" class="d"><ellipse cx="552" cy="686" rx="17.5" ry="21.5"/><use href="#R" x="552" y="686"/></g>
<g id="n13-11" class="d"><ellipse cx="604" cy="686" rx="17.5" ry="21.5"/><use href="#R" x="604" y="686"/></g>
<g id="n13-12" class="d"><ellipse cx="656" cy="686" rx="17.5" ry="21.5"/><use href="#R" x="656" y="686"/></g>
<g id="n13-13" class="s"><ellipse cx="708" cy="686" rx="17.5" ry="21.5"/><use href="#R" x="708" y="686"/></g>
<g id="n13-14" class="s"><ellipse cx="760" cy="686" rx="17.5" ry="21.5"/><use href="#R" x="760" y="686"/></g>
<g id="n13-15" class="s"><ellipse cx="812" cy="686" rx="17.5" ry="21.5"/><use href="#R" x="812" y="686"/></g>
<g id="n13-16" class="s"><ellipse cx="864" cy="686" rx="17.5" ry="21.5"/><use href="#R" x="864" y="686"/></g>
<g id="n14-1" class="s"><ellipse cx="84" cy="738" rx="17.5" ry="21.5"/><use href="#L" x="84" y="738"/></g>
<g id="n14-2" class="l"><ellipse cx="136" cy="738" rx="17.5" ry="21.5"/><use href="#L" x="136" y="738"/></g>
<g id="n14-3" class="l"><ellipse cx="188" cy="738" rx="17.5" ry="21.5"/><use href="#L" x="188" y="738"/></g>
<g id="n14-4" class="p"><ellipse cx="240" cy="738" rx="17.5" ry="21.5"/><use href="#L" x="240" y="738"/></g>
<g id="n14-5" class="p"><ellipse cx="292" cy="738" rx="17.5" ry="21.5"/><use href="#L" x="292" y="738"/></g>
<g id="n14-6" class="p"><ellipse cx="344" cy="738" rx="17.5" ry="21.5"/><use href="#L" x="344" y="738"/></g>
<g id="n14-7" class="m"><ellipse cx="396" cy="738" rx="17.5" ry="21.5"/><use href="#L" x="396" y="738"/></g>
<g id="n14-8" class="m"><ellipse cx="448" cy="738" rx="17.5" ry="21.5"/><use href="#L" x="448" y="738"/></g>
<g id="n14-9" class="m"><ellipse cx="500" cy="738" rx="17.5" ry="21.5"/><use href="#L" x="500" y="738"/></g>
<g id="n14-10" class="d"><ellipse cx="552" cy="738" rx="17.5" ry="21.5"/><use href="#L" x="552" y="738"/></g>
<g id="n14-11" class="d"><ellipse cx="604" cy="738" rx="17.5" ry="21.5"/><use href="#L" x="604" y="738"/></g>
<g id="n14-12" class="s"><ellipse cx="656" cy="738" rx="17.5" ry="21.5"/><use href="#L" x="656" y="738"/></g>
<g id="n14-13" class="s"><ellipse cx="708" cy="738" rx="17.5" ry="21.5"/><use href="#L" x="708" y="738"/></g>
<g id="n14-14" class="s"><ellipse cx="760" cy="738" rx="17.5" ry="21.5"/><use href="#L" x="760" y="738"/></g>
<g id="n14-15" class="s"><ellipse cx="812" cy="738" rx="17.5" ry="21.5"/><use href="#L" x="812" y="738"/></g>
<g id="n14-16" class="s"><ellipse cx="864" cy="738" rx="17.5" ry="21.5"/><use href="#L" x="864" y="738"/></g>
<g id="n15-1" class="s"><ellipse cx="84" cy="790" rx="17.5" ry="21.5"/><use href="#R" x="84" y="790"/></g>
<g id="n15-2" class="s"><ellipse cx="136" cy="790" rx="17.5" ry="21.5"/><use href="#R" x="136" y="790"/></g>
<g id="n15-3" class="s"><ellipse cx="188" cy="790" rx="17.5" ry="21.5"/><use href="#R" x="188" y="790"/></g>
<g id="n15-4" class="s"><ellipse cx="240" cy="790" rx="17.5" ry="21.5"/><use href="#R" x="240" y="790"/></g>
<g id="n15-5" class="s"><ellipse cx="292" cy="790" rx="17.5" ry="21.5"/><use href="#R" x="292" y="790"/></g>
<g id="n15-6" class="s"><ellipse cx="344" cy="790" rx="17.5" ry="21.5"/><use href="#R" x="344" y="790"/></g>
<g id="n15-7" class="s"><ellipse cx="396" cy="790" rx="17.5" ry="21.5"/><use href="#R" x="396" y="790"/></g>
<g id="n15-8" class="s"><ellipse cx="448" cy="790" rx="17.5" ry="21.5"/><use href="#R" x="448" y="790"/></g>
<g id="n15-9" class="s"><ellipse cx="500" cy="790" rx="17.5" ry="21.5"/><use href="#R" x="500" y="790"/></g>
<g id="n15-10" class="d"><ellipse cx="552" cy="790" rx="17.5" ry="21.5"/><use href="#R" x="552" y="790"/></g>
<g id="n15-11" class="s"><ellipse cx="604" cy="790" rx="17.5" ry="21.5"/><use href="#R" x="604" y="790"/></g>
<g id="n15-12" class="s"><ellipse cx="656" cy="790" rx="17.5" ry="21.5"/><use href="#R" x="656" y="790"/></g>
<g id="n15-13" class="s"><ellipse cx="708" cy="790" rx="17.5" ry="21.5"/><use href="#R" x="708" y="790"/></g>
<g id="n15-14" class="s"><ellipse cx="760" cy="790" rx="17.5" ry="21.5"/><use href="#R" x="760" y="790"/></g>
<g id="n15-15" class="s"><ellipse cx="812" cy="790" rx="17.5" ry="21.5"/><use href="#R" x="812" y="790"/></g>
<g id="n15-16" class="s"><ellipse cx="864" cy="790" rx="17.5" ry="21.5"/><use href="#R" x="864" y="790"/></g>
<g id="n16-1" class="s"><ellipse cx="84" cy="842" rx="17.5" ry="21.5"/><use href="#L" x="84" y="842"/></g>
<g id="n16-2" class="s"><ellipse cx="136" cy="842" rx="17.5" ry="21.5"/><use href="#L" x="136" y="842"/></g>
<g id="n16-3" class="s"><ellipse cx="188" cy="842" rx="17.5" ry="21.5"/><use href="#L" x="188" y="842"/></g>
<g id="n16-4" class="s"><ellipse cx="240" cy="842" rx="17.5" ry="21.5"/><use href="#L" x="240" y="842"/></g>
<g id="n16-5" class="s"><ellipse cx="292" cy="842" rx="17.5" ry="21.5"/><use href="#L" x="292" y="842"/></g>
<g id="n16-6" class="s"><ellipse cx="344" cy="842" rx="17.5" ry="21.5"/><use href="#L" x="344" y="842"/></g>
<g id="n16-7" class="s"><ellipse cx="396" cy="842" rx="17.5" ry="21.5"/><use href="#L" x="396" y="842"/></g>
<g id="n16-8" class="m"><ellipse cx="448" cy="842" rx="17.5" ry="21.5"/><use href="#L" x="448" y="842"/></g>
<g id="n16-9" class="m"><ellipse cx="500" cy="842" rx="17.5" ry="21.5"/><use href="#L" x="500" y="842"/></g>
<g id="n16-10" class="s"><ellipse cx="552" cy="842" rx="17.5" ry="21.5"/><use href="#L" x="552" y="842"/></g>
<g id="n16-11" class="s"><ellipse cx="604" cy="842" rx="17.5" ry="21.5"/><use href="#L" x="604" y="842"/></g>
<g id="n16-12" class="s"><ellipse cx="656" cy="842" rx="17.5" ry="21.5"/><use href="#L" x="656" y="842"/></g>
<g id="n16-13" class="s"><ellipse cx="708" cy="842" rx="17.5" ry="21.5"/><use href="#L" x="708" y="842"/></g>
<g id="n16-14" class="s"><ellipse cx="760" cy="842" rx="17.5" ry="21.5"/><use href="#L" x="760" y="842"/></g>
<g id="n16-15" class="s"><ellipse cx="812" cy="842" rx="17.5" ry="21.5"/><use href="#L" x="812" y="842"/></g>
<g id="n16-16" class="s"><ellipse cx="864" cy="842" rx="17.5" ry="21.5"/><use href="#L" x="864" y="842"/></g>
<g id="n17-1" class="s"><ellipse cx="84" cy="894" rx="17.5" ry="21.5"/><use href="#R" x="84" y="894"/></g>
<g id="n17-2" class="s"><ellipse cx="136" cy="894" rx="17.5" ry="21.5"/><use href="#R" x="136" y="894"/></g>
<g id="n17-3" class="s"><ellipse cx="188" cy="894" rx="17.5" ry="21.5"/><use href="#R" x="188" y="894"/></g>
<g id="n17-4" class="s"><ellipse cx="240" cy="894" rx="17.5" ry="21.5"/><use href="#R" x="240" y="894"/></g>
<g id="n17-5" class="s"><ellipse cx="292" cy="894" rx="17.5" ry="21.5"/><use href="#R" x="292" y="894"/></g>
<g id="n17-6" class="s"><ellipse cx="344" cy="894" rx="17.5" ry="21.5"/><use href="#R" x="344" y="894"/></g>
<g id="n17-7" class="s"><ellipse cx="396" cy="894" rx="17.5" ry="21.5"/><use href="#R" x="396" y="894"/></g>
<g id="n17-8" class="s"><ellipse cx="448" cy="894" rx="17.5" ry="21.5"/><use href="#R" x="448" y="894"/></g>
<g id="n17-9" class="s"><ellipse cx="500" cy="894" rx="17.5" ry="21.5"/><use href="#R" x="500" y="894"/></g>
<g id="n17-10" class="s"><ellipse cx="552" cy="894" rx="17.5" ry="21.5"/><use href="#R" x="552" y="894"/></g>
<g id="n17-11" class="s"><ellipse cx="604" cy="894" rx="17.5" ry="21.5"/><use href="#R" x="604" y="894"/></g>
<g id="n17-12" class="s"><ellipse cx="656" cy="894" rx="17.5" ry="21.5"/><use href="#R" x="656" y="894"/></g>
<g id="n17-13" class="s"><ellipse cx="708" cy="894" rx="17.5" ry="21.5"/><use href="#R" x="708" y="894"/></g>
<g id="n17-14" class="s"><ellipse cx="760" cy="894" rx="17.5" ry="21.5"/><use href="#R" x="760" y="894"/></g>
<g id="n17-15" class="s"><ellipse cx="812" cy="894" rx="17.5" ry="21.5"/><use href="#R" x="812" y="894"/></g>
<g id="n17-16" class="s"><ellipse cx="864" cy="894" rx="17.5" ry="21.5"/><use href="#R" x="864" y="894"/></g>
</g>
<g id="watermark">
<rect x="394" y="494" width="161" height="18" fill="#fff" fill-opacity="0.5"/>
<text x="474.5" y="509" text-anchor="middle" font-family="'Liberation Sans',Arial,sans-serif" font-weight="bold" font-size="15" fill="#3a3a3a" textLength="155" lengthAdjust="spacingAndGlyphs">BRACELETBOOK.COM</text>
</g>
</svg>
